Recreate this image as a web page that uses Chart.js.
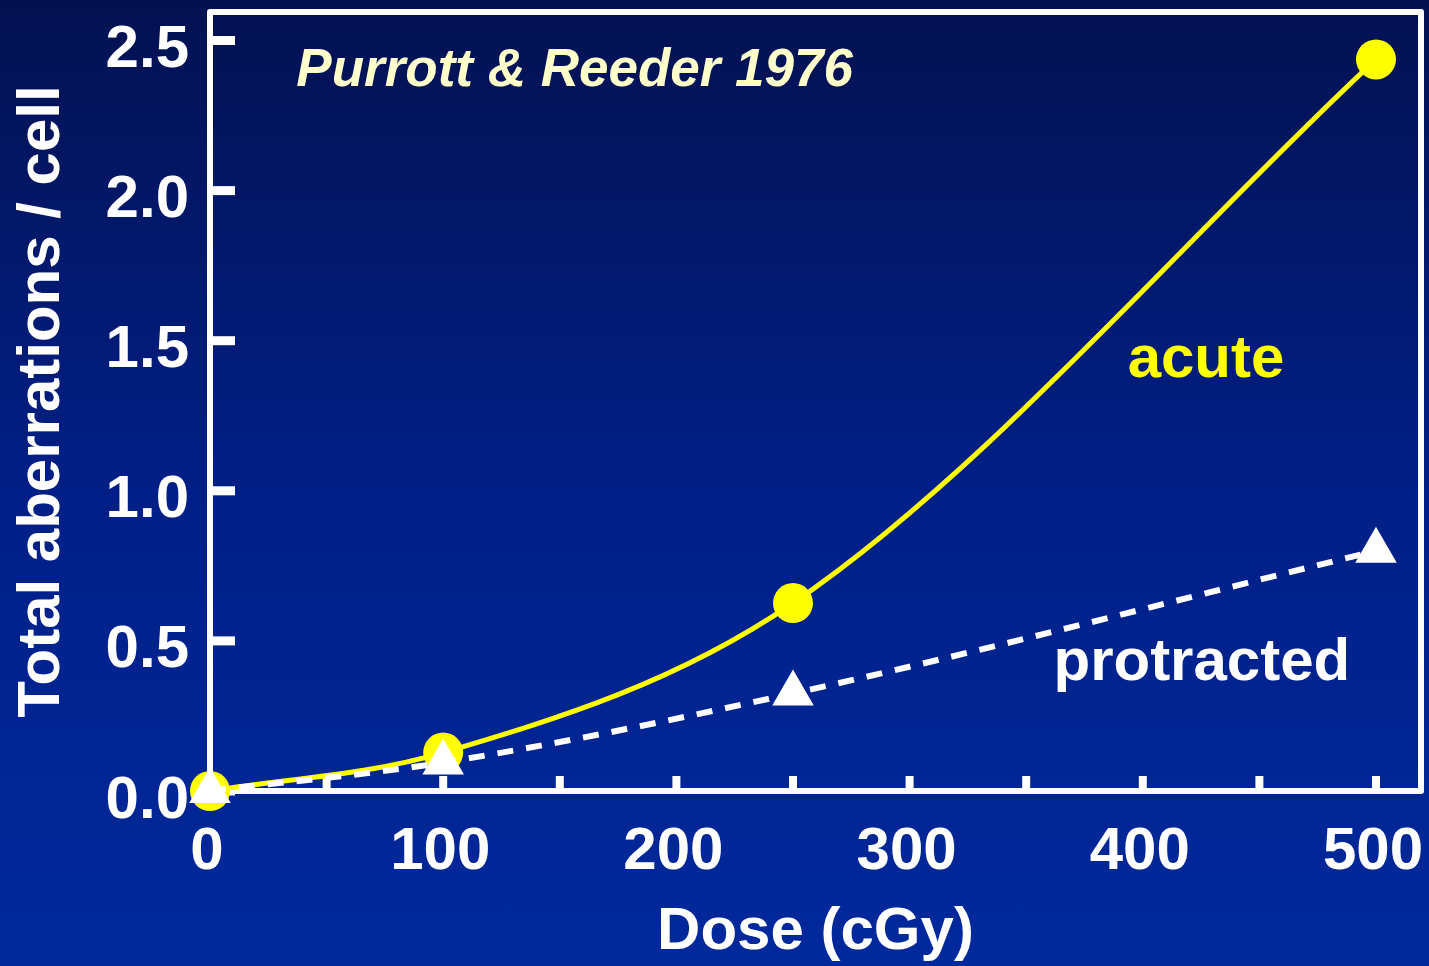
<!DOCTYPE html>
<html>
<head>
<meta charset="utf-8">
<script src="https://cdn.jsdelivr.net/npm/chart.js@4.4.1/dist/chart.umd.min.js"></script>
<style>
  html, body { margin: 0; padding: 0; }
  body {
    width: 1429px; height: 966px; overflow: hidden;
    background: linear-gradient(to bottom, #031150 0%, #001f86 50%, #00299d 100%);
  }
  canvas { display: block; }
</style>
</head>
<body>
<canvas id="grafico" width="1429" height="966"></canvas>
<script>
// dados
const doses = [0, 100, 250, 500];
const aberracoesAguda = [0, 0.128, 0.626, 2.437];
const aberracoesProtraida = [0, 0.095, 0.325, 0.8];
const rotulosDose = [0, 100, 200, 300, 400, 500];
const rotulosAberracoes = [0, 0.5, 1.0, 1.5, 2.0, 2.5];

const fonte = "'Liberation Sans', Arial, sans-serif";
Chart.defaults.font.family = fonte;

const pontos = (ys) => doses.map((d, i) => ({ x: d, y: ys[i] }));

// moldura branca e marcas de escala para dentro
const moldura = {
    id: 'moldura',
    beforeDatasetsDraw(chart) {
        const { ctx, chartArea: a, scales } = chart;
        ctx.save();
        ctx.strokeStyle = '#ffffff';
        ctx.lineWidth = 6;
        ctx.lineJoin = 'round';
        ctx.strokeRect(a.left, a.top, a.right - a.left, a.bottom - a.top);

        ctx.lineWidth = 8;
        ctx.lineCap = 'butt';
        scales.x.ticks.forEach(t => {
            const px = scales.x.getPixelForValue(t.value);
            ctx.beginPath();
            ctx.moveTo(px, a.bottom);
            ctx.lineTo(px, a.bottom - 15);
            ctx.stroke();
        });
        ctx.lineWidth = 9;
        scales.y.ticks.forEach(t => {
            const py = scales.y.getPixelForValue(t.value);
            ctx.beginPath();
            ctx.moveTo(a.left, py);
            ctx.lineTo(a.left + 25, py);
            ctx.stroke();
        });
        ctx.restore();
    }
};

// textos dentro do gráfico (posição em unidades dos eixos)
const anotacoes = {
    id: 'anotacoes',
    afterDatasetsDraw(chart) {
        const { ctx, scales } = chart;
        const textos = [
            { t: 'Purrott & Reeder 1976', x: 37, y: 2.347, cor: '#ffffcc', f: 'italic bold 53px ' + fonte },
            { t: 'acute', x: 393.5, y: 1.379, cor: '#ffff00', f: 'bold 60px ' + fonte },
            { t: 'protracted', x: 361.7, y: 0.370, cor: '#ffffff', f: 'bold 60px ' + fonte }
        ];
        ctx.save();
        ctx.textAlign = 'left';
        ctx.textBaseline = 'alphabetic';
        textos.forEach(o => {
            ctx.font = o.f;
            ctx.fillStyle = o.cor;
            ctx.fillText(o.t, scales.x.getPixelForValue(o.x), scales.y.getPixelForValue(o.y));
        });
        ctx.restore();
    }
};

new Chart(document.getElementById('grafico'), {
    type: 'line',
    data: {
        datasets: [
            {
                label: 'protracted', data: pontos(aberracoesProtraida),
                borderColor: '#ffffff', borderWidth: 6, borderDash: [16, 13],
                cubicInterpolationMode: 'monotone',
                pointStyle: 'triangle', pointRadius: 24, pointBorderWidth: 0,
                pointBackgroundColor: '#ffffff', clip: false
            },
            {
                label: 'acute', data: pontos(aberracoesAguda),
                borderColor: '#ffff00', borderWidth: 5,
                cubicInterpolationMode: 'monotone',
                pointStyle: 'circle', pointRadius: 20, pointBorderWidth: 0,
                pointBackgroundColor: '#ffff00', clip: false
            }
        ]
    },
    options: {
        responsive: false, animation: false,
        layout: { autoPadding: false, padding: { top: 12, right: 8, left: 0, bottom: 0 } },
        plugins: { legend: { display: false }, tooltip: { enabled: false } },
        scales: {
            x: {
                type: 'linear', min: 0, max: 519.3,
                grid: { display: true, drawOnChartArea: false, drawTicks: false },
                border: { display: false },
                ticks: {
                    stepSize: 50, includeBounds: false, autoSkip: false, maxRotation: 0,
                    padding: 25, labelOffset: -3, color: '#ffffff',
                    font: { size: 60, weight: 'bold' },
                    callback: (v) => rotulosDose.includes(v) ? String(v) : ''
                },
                title: {
                    display: true, text: 'Dose (cGy)', color: '#ffffff',
                    font: { size: 60, weight: 'bold' }, padding: { top: 0, bottom: -2 }
                },
                afterFit: (s) => { s.height = 175; s.paddingLeft = 0; s.paddingRight = 0; }
            },
            y: {
                type: 'linear', min: 0, max: 2.595,
                grid: { display: true, drawOnChartArea: false, drawTicks: false },
                border: { display: false },
                ticks: {
                    stepSize: 0.5, includeBounds: false, padding: 21, labelOffset: 10,
                    color: '#ffffff', font: { size: 60, weight: 'bold' },
                    callback: (v) => rotulosAberracoes.includes(v) ? v.toFixed(1) : ''
                },
                title: {
                    display: true, text: 'Total aberrations / cell', color: '#ffffff',
                    font: { size: 60, weight: 'bold' }, padding: { top: 6, bottom: 0 }
                },
                afterFit: (s) => { s.width = 210; s.paddingTop = 0; s.paddingBottom = 0; }
            }
        }
    },
    plugins: [moldura, anotacoes]
});
</script>
</body>
</html>
